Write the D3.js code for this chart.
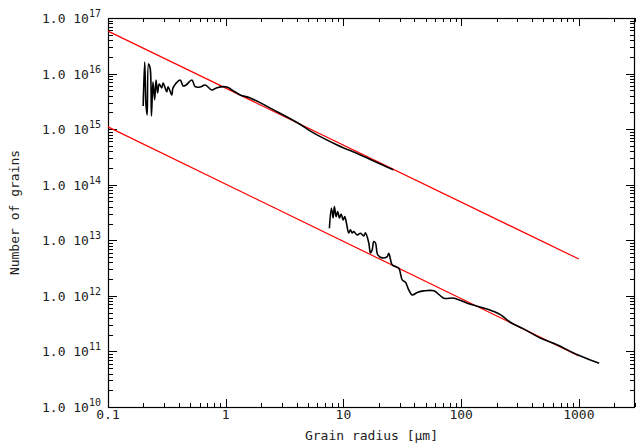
<!DOCTYPE html>
<html>
<head>
<meta charset="utf-8">
<script src="https://cdn.jsdelivr.net/npm/d3@7"></script>
<style>
  body { margin: 0; background: #fff; }
  text { font-family: "DejaVu Sans Mono", monospace; fill: #222; }
</style>
</head>
<body>
<script>
// grain size distributions (radius in micron, number of grains)
const smallGrains = [
    [0.199, 2.61e15], [0.205, 1.62e16], [0.210, 2.84e15], [0.215, 1.80e15],
    [0.221, 1.49e16], [0.228, 1.26e16], [0.234, 1.73e15], [0.241, 7.06e15],
    [0.249, 3.35e15], [0.256, 7.67e15], [0.264, 4.48e15], [0.272, 6.50e15],
    [0.286, 5.51e15], [0.294, 6.78e15], [0.316, 4.72e15], [0.324, 5.81e15],
    [0.348, 4.12e15], [0.357, 5.51e15], [0.410, 7.67e15], [0.435, 5.98e15],
    [0.461, 6.24e15], [0.516, 7.67e15], [0.550, 5.81e15], [0.607, 5.74e15],
    [0.669, 6.24e15], [0.763, 5.07e15], [0.842, 5.58e15], [1.024, 5.74e15],
    [1.129, 5.07e15], [1.329, 4.12e15], [1.616, 3.64e15], [2.73, 2.06e15],
    [4.04, 1.32e15], [5.56, 8.55e14], [8.84, 5.20e14], [13.96, 3.44e14],
    [26.6, 1.85e14]
];

const largeGrains = [
    [7.60, 1.65e13], [7.91, 3.78e13], [8.17, 2.53e13], [8.38, 4.04e13],
    [8.67, 2.67e13], [8.94, 3.28e13], [9.25, 2.53e13], [9.56, 2.98e13],
    [9.94, 2.33e13], [10.26, 2.67e13], [10.60, 2.06e13], [11.09, 1.36e13],
    [11.47, 1.54e13], [11.86, 1.36e13], [12.24, 1.43e13], [13.08, 1.25e13],
    [13.96, 1.34e13], [14.89, 1.20e13], [15.39, 1.36e13], [16.42, 8.98e12],
    [16.97, 5.93e12], [17.55, 6.71e12], [18.11, 9.48e12], [18.72, 8.98e12],
    [19.59, 5.46e12], [21.35, 4.82e12], [23.54, 5.09e12], [24.29, 5.86e12],
    [25.97, 3.61e12], [27.71, 3.37e12], [29.56, 3.15e12], [31.6, 1.94e12],
    [33.7, 1.75e12], [35.9, 1.28e12], [38.4, 1.04e12], [42.4, 1.15e12],
    [48.3, 1.23e12], [58.7, 1.23e12], [71.4, 9.08e11], [86.8, 9.08e11],
    [112.9, 7.39e11], [146.6, 6.26e11], [190.2, 5.21e11], [216.9, 4.55e11],
    [263.8, 3.31e11], [342.4, 2.52e11], [474.9, 1.73e11], [658.8, 1.31e11],
    [974.7, 8.69e10], [1489, 6.15e10]
];

// power-law fits
const fitUpper = [[0.1, 5.8e16], [1000, 4.6e12]];
const fitLower = [[0.1, 1.1e15], [1000, 8.3e10]];

const xMajor = [0.1, 1, 10, 100, 1000];
const xLabels = ["0.1", "1", "10", "100", "1000"];
const yExponents = [10, 11, 12, 13, 14, 15, 16, 17];

const width = 638;
const height = 444;
const mLeft = 108, mRight = 635, mTop = 18, mBottom = 407;

const svg = d3.select("body").append("svg")
    .attr("width", width)
    .attr("height", height);

const x = d3.scaleLog().domain([0.1, 3000]).range([mLeft, mRight]);
const y = d3.scaleLog().domain([1e10, 1e17]).range([mBottom, mTop]);

// minor ticks
const xMinor = [];
for (let e = -1; e <= 3; e++) {
    for (let k = 2; k <= 9; k++) {
        const v = k * Math.pow(10, e);
        if (v <= 3000) xMinor.push(v);
    }
}
const yMinor = [];
for (let e = 10; e < 17; e++) {
    for (let k = 2; k <= 9; k++) yMinor.push(k * Math.pow(10, e));
}

const ticks = svg.append("g")
    .attr("stroke", "#000")
    .attr("stroke-width", 1);

function xTick(v, len) {
    const px = Math.round(x(v)) + 0.5;
    ticks.append("line")
        .attr("x1", px).attr("x2", px)
        .attr("y1", mBottom).attr("y2", mBottom - len);
    ticks.append("line")
        .attr("x1", px).attr("x2", px)
        .attr("y1", mTop).attr("y2", mTop + len);
}
function yTick(v, len) {
    const py = Math.round(y(v)) + 0.5;
    ticks.append("line")
        .attr("x1", mLeft).attr("x2", mLeft + len)
        .attr("y1", py).attr("y2", py);
    ticks.append("line")
        .attr("x1", mRight).attr("x2", mRight - len)
        .attr("y1", py).attr("y2", py);
}

xMajor.forEach(v => xTick(v, 8));
xMinor.forEach(v => xTick(v, 4));
yExponents.forEach(e => yTick(Math.pow(10, e), 9));
yMinor.forEach(v => yTick(v, 5));

// frame
svg.append("rect")
    .attr("x", mLeft + 0.5)
    .attr("y", mTop + 0.5)
    .attr("width", mRight - mLeft - 1)
    .attr("height", mBottom - mTop)
    .attr("fill", "none")
    .attr("stroke", "#000")
    .attr("stroke-width", 1.2);

// x tick labels
svg.append("g").selectAll("text")
    .data(xMajor)
    .enter().append("text")
    .attr("x", d => x(d))
    .attr("y", 419)
    .attr("text-anchor", "middle")
    .attr("font-size", 13)
    .text((d, i) => xLabels[i]);

// y tick labels with superscript exponent
const yLab = svg.append("g").selectAll("text")
    .data(yExponents)
    .enter().append("text")
    .attr("x", 101)
    .attr("y", d => y(Math.pow(10, d)) + 5)
    .attr("text-anchor", "end")
    .attr("font-size", 13);
yLab.append("tspan").text("1.0 10");
yLab.append("tspan")
    .attr("dy", -6)
    .attr("font-size", 10)
    .text(d => d);

// axis titles
svg.append("text")
    .attr("x", (mLeft + mRight) / 2)
    .attr("y", 440)
    .attr("text-anchor", "middle")
    .attr("font-size", 13)
    .text("Grain radius [\u03bcm]");

svg.append("text")
    .attr("transform", `translate(19,${(mTop + mBottom) / 2}) rotate(-90)`)
    .attr("text-anchor", "middle")
    .attr("font-size", 13)
    .text("Number of grains");

const straight = d3.line()
    .x(d => x(d[0]))
    .y(d => y(d[1]));

const smooth = d3.line()
    .x(d => x(d[0]))
    .y(d => y(d[1]))
    .curve(d3.curveCatmullRom.alpha(0.5));

// fits in red
[fitUpper, fitLower].forEach(f => {
    svg.append("path")
        .datum(f)
        .attr("d", straight)
        .attr("fill", "none")
        .attr("stroke", "#ff0000")
        .attr("stroke-width", 1.2);
});

// distributions in black
[smallGrains, largeGrains].forEach(s => {
    svg.append("path")
        .datum(s)
        .attr("d", smooth)
        .attr("fill", "none")
        .attr("stroke", "#000")
        .attr("stroke-width", 1.6)
        .attr("stroke-linejoin", "round");
});
</script>
</body>
</html>
